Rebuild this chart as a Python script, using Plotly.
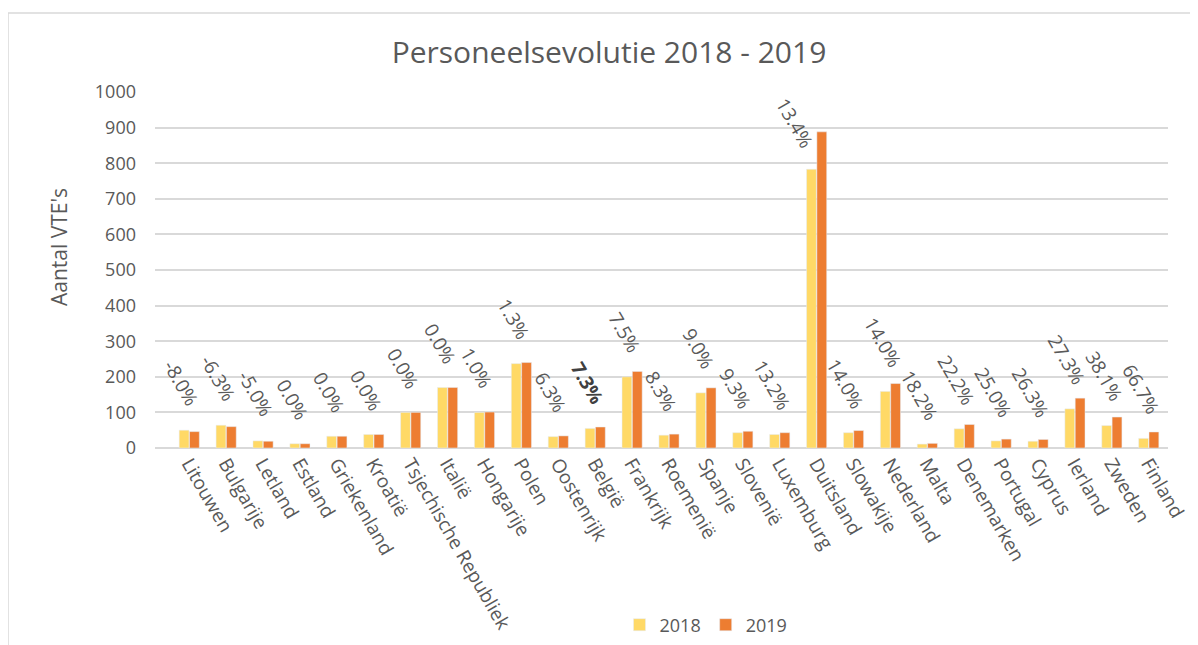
import plotly.graph_objects as go

countries = ["Litouwen", "Bulgarije", "Letland", "Estland", "Griekenland", "Kroatië",
             "Tsjechische Republiek", "Italië", "Hongarije", "Polen", "Oostenrijk", "België",
             "Frankrijk", "Roemenië", "Spanje", "Slovenië", "Luxemburg", "Duitsland",
             "Slowakije", "Nederland", "Malta", "Denemarken", "Portugal", "Cyprus",
             "Ierland", "Zweden", "Finland"]
v2018 = [50, 64, 20, 12, 33, 38, 100, 170, 100, 237, 32, 55, 200, 36, 155, 43, 38, 783,
         43, 159, 11, 54, 20, 19, 110, 63, 27]
v2019 = [46, 60, 19, 12, 33, 38, 100, 170, 101, 240, 34, 59, 215, 39, 169, 47, 43, 888,
         49, 181, 13, 66, 25, 24, 140, 87, 45]
pct_labels = ["-8.0%", "-6.3%", "-5.0%", "0.0%", "0.0%", "0.0%", "0.0%", "0.0%", "1.0%",
              "1.3%", "6.3%", "7.3%", "7.5%", "8.3%", "9.0%", "9.3%", "13.2%", "13.4%",
              "14.0%", "14.0%", "18.2%", "22.2%", "25.0%", "26.3%", "27.3%", "38.1%", "66.7%"]
y_ticks = [0, 100, 200, 300, 400, 500, 600, 700, 800, 900, 1000]

FONT = "Open Sans"
GREY = "#595959"
OFF = 8                      # default page body margin
W, H = 1198 - OFF, 645 - OFF
L, R, T, B = 155 - OFF, W - (1168 - OFF), 92 - OFF, H - (448 - OFF)
PW, PH = W - L - R, H - T - B


def px(xp):  # page x -> paper x
    return (xp - OFF - L) / PW


def py(yp):  # page y -> paper y
    return (H - B - (yp - OFF)) / PH


fig = go.Figure()
fig.add_trace(go.Bar(x=countries, y=v2018, name="2018", marker_color="#FFD966"))
fig.add_trace(go.Bar(x=countries, y=v2019, name="2019", marker_color="#ED7D31"))

for c, v, t in zip(countries, v2018, pct_labels):
    tall = c == "Duitsland"   # this label sits left of the tall bar pair
    fig.add_annotation(
        x=c, y=v, text=("<b>%s</b>" % t) if c == "België" else t,
        showarrow=False, textangle=60, xanchor="center", yanchor="bottom",
        xshift=-22 if tall else -8, yshift=14 if tall else 17,
        font=dict(family=FONT, size=19, color="#404040" if c == "België" else GREY),
    )

# y-axis title
fig.add_annotation(x=px(59), y=py(247), xref="paper", yref="paper",
                   text="Aantal VTE's", textangle=-90, showarrow=False,
                   xanchor="center", yanchor="middle",
                   font=dict(family=FONT, size=21, color=GREY))

# chart border
fig.add_shape(type="rect", xref="paper", yref="paper",
              x0=px(8), x1=1.2, y0=-0.8, y1=py(13),
              line=dict(color="#D9D9D9", width=1.5), fillcolor="rgba(0,0,0,0)", layer="below")

fig.update_layout(
    width=W, height=H,
    paper_bgcolor="white", plot_bgcolor="white",
    margin=dict(l=L, r=R, t=T, b=B, autoexpand=False),
    barmode="group", bargap=0.44, bargroupgap=0.05,
    title=dict(text="Personeelsevolutie 2018 - 2019", x=(609 - OFF) / W, xanchor="center",
               y=1 - (52 - OFF) / H, yanchor="middle", yref="container", xref="container",
               font=dict(family=FONT, size=30, color=GREY)),
    font=dict(family=FONT, color=GREY),
    legend=dict(orientation="h", x=px(706), xanchor="center",
                y=py(625), yanchor="middle",
                font=dict(family=FONT, size=18, color=GREY), traceorder="normal"),
    showlegend=True,
)
fig.update_yaxes(range=[0, 1000], tickvals=y_ticks, showgrid=True, gridcolor="#D9D9D9",
                 gridwidth=1.5, zeroline=True, zerolinecolor="#D9D9D9", zerolinewidth=1.5,
                 automargin=False,
                 tickfont=dict(family=FONT, size=18, color=GREY), ticklabelstandoff=18)
fig.update_xaxes(tickangle=60, tickfont=dict(family=FONT, size=19, color=GREY),
                 showline=False, ticks="", automargin=False)

fig.write_html("out.html")
